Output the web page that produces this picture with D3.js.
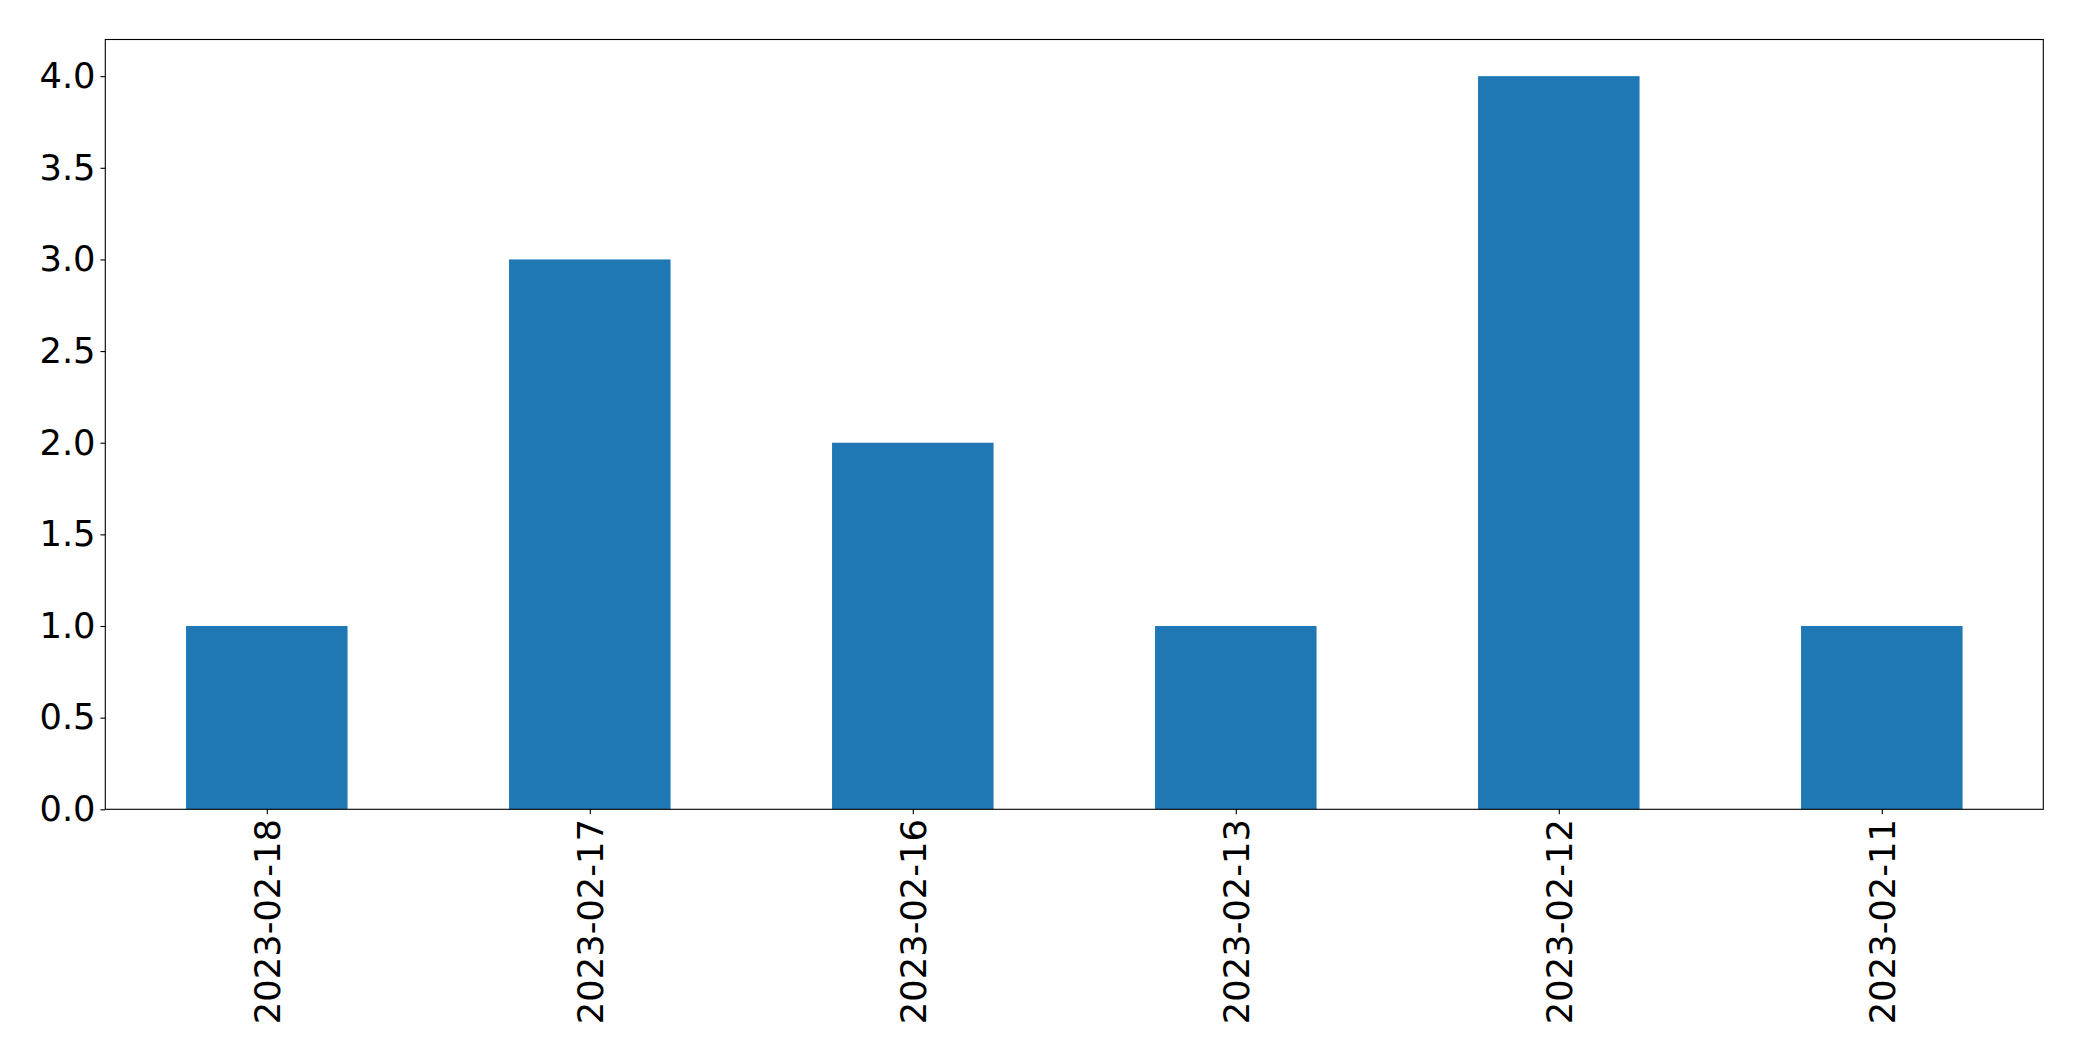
<!DOCTYPE html>
<html>
<head>
<meta charset="utf-8">
<script src="https://cdn.jsdelivr.net/npm/d3@7"></script>
<style>
html, body { margin: 0; padding: 0; background: #fff; }
svg { display: block; }
text { font-family: "DejaVu Sans", sans-serif; fill: #000; }
</style>
</head>
<body>
<script>
const categories = ["2023-02-18", "2023-02-17", "2023-02-16", "2023-02-13", "2023-02-12", "2023-02-11"];
const values = [1, 3, 2, 1, 4, 1];
const yTicks = [0, 0.5, 1, 1.5, 2, 2.5, 3, 3.5, 4];

const W = 2082, H = 1061;
const mLeft = 105.3, mRight = 2043.3, mTop = 39.5, mBottom = 809.3;
const fontSize = 35.3;
const tickLen = 4.86, pad = 4.86;

const svg = d3.select("body").append("svg").attr("width", W).attr("height", H);

const x = d3.scaleLinear().domain([-0.5, categories.length - 0.5]).range([mLeft, mRight]);
const y = d3.scaleLinear().domain([0, 4.2]).range([mBottom, mTop]);

const data = categories.map((c, i) => ({ c, i, v: values[i] }));

svg.append("g").selectAll("rect").data(data).join("rect")
  .attr("x", d => x(d.i - 0.25))
  .attr("width", d => x(d.i + 0.25) - x(d.i - 0.25))
  .attr("y", d => y(d.v))
  .attr("height", d => y(0) - y(d.v))
  .attr("fill", "#1f77b4");

// frame
svg.append("rect")
  .attr("x", mLeft).attr("y", mTop)
  .attr("width", mRight - mLeft).attr("height", mBottom - mTop)
  .attr("fill", "none").attr("stroke", "#000").attr("stroke-width", 1.11);

// y axis
const yAxis = d3.axisLeft(y).tickValues(yTicks).tickFormat(d3.format(".1f"))
  .tickSize(tickLen).tickPadding(pad);
const gy = svg.append("g").attr("transform", `translate(${mLeft},0)`).call(yAxis);
gy.select(".domain").remove();
gy.selectAll(".tick line").attr("stroke", "#000").attr("stroke-width", 1.11);
gy.selectAll(".tick text").attr("font-size", fontSize).attr("font-family", "DejaVu Sans").attr("fill", "#000");

// x axis
const xAxis = d3.axisBottom(x).tickValues(d3.range(categories.length))
  .tickFormat(i => categories[i]).tickSize(tickLen).tickPadding(pad);
const gx = svg.append("g").attr("transform", `translate(0,${mBottom})`).call(xAxis);
gx.select(".domain").remove();
gx.selectAll(".tick line").attr("stroke", "#000").attr("stroke-width", 1.11);
gx.selectAll(".tick text")
  .attr("font-size", fontSize).attr("font-family", "DejaVu Sans").attr("fill", "#000")
  .attr("text-anchor", "end")
  .attr("transform", `translate(0,${tickLen + pad}) rotate(-90)`)
  .attr("x", 0).attr("y", 0).attr("dy", "0.35em");
</script>
</body>
</html>
